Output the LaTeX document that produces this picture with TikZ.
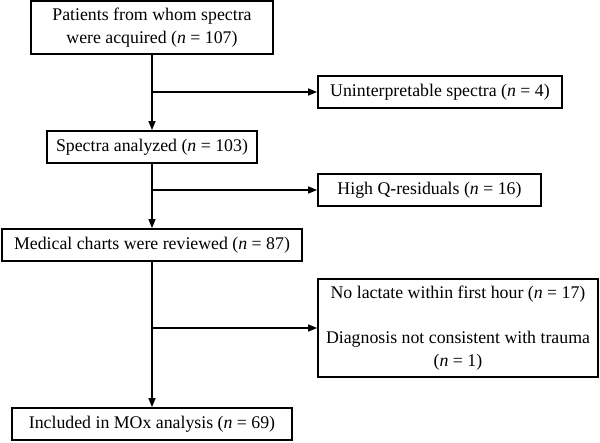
\documentclass[tikz,border=0pt]{standalone}
\usepackage{fontspec}
\setmainfont{Liberation Serif}
\usetikzlibrary{arrows.meta}
\tikzset{
  box/.style={draw, line width=1.8pt, inner sep=0pt, align=center,
    font=\fontsize{17.8}{22.5}\selectfont},
  conn/.style={line width=1.5pt, -{Triangle[length=9pt,width=7pt]}},
  seg/.style={line width=1.5pt},
}
\begin{document}
\begin{tikzpicture}[x=1pt,y=-1pt]
\useasboundingbox (0,0) rectangle (600,442);
\node[box, minimum width=242pt, minimum height=53pt] (acq) at (152,27.5)
  {Patients from whom spectra\\were acquired (\textit{n} = 107)};
\node[box, minimum width=244pt, minimum height=32pt] (unint) at (440,92)
  {Uninterpretable spectra (\textit{n} = 4)};
\node[box, minimum width=210pt, minimum height=32pt] (ana) at (152,147)
  {Spectra analyzed (\textit{n} = 103)};
\node[box, minimum width=223pt, minimum height=32pt] (highq) at (429.5,190)
  {High Q-residuals (\textit{n} = 16)};
\node[box, minimum width=300pt, minimum height=32pt] (med) at (152,245)
  {Medical charts were reviewed (\textit{n} = 87)};
\node[box, minimum width=280pt, minimum height=98pt] (excl) at (458,328)
  {No lactate within first hour (\textit{n} = 17)\\[22.5pt]Diagnosis not consistent with trauma\\(\textit{n} = 1)};
\node[box, minimum width=280pt, minimum height=32pt] (incl) at (152,424)
  {Included in MOx analysis (\textit{n} = 69)};
\coordinate (j1) at (acq.south |- unint.west);
\coordinate (j2) at (ana.south |- highq.west);
\coordinate (j3) at (med.south |- excl.west);
\draw[conn] (acq.south) -- (ana.north);
\draw[conn] (j1) -- (unint.west);
\draw[conn] (ana.south) -- (med.north);
\draw[conn] (j2) -- (highq.west);
\draw[conn] (med.south) -- (incl.north);
\draw[conn] (j3) -- (excl.west);
\end{tikzpicture}
\end{document}
